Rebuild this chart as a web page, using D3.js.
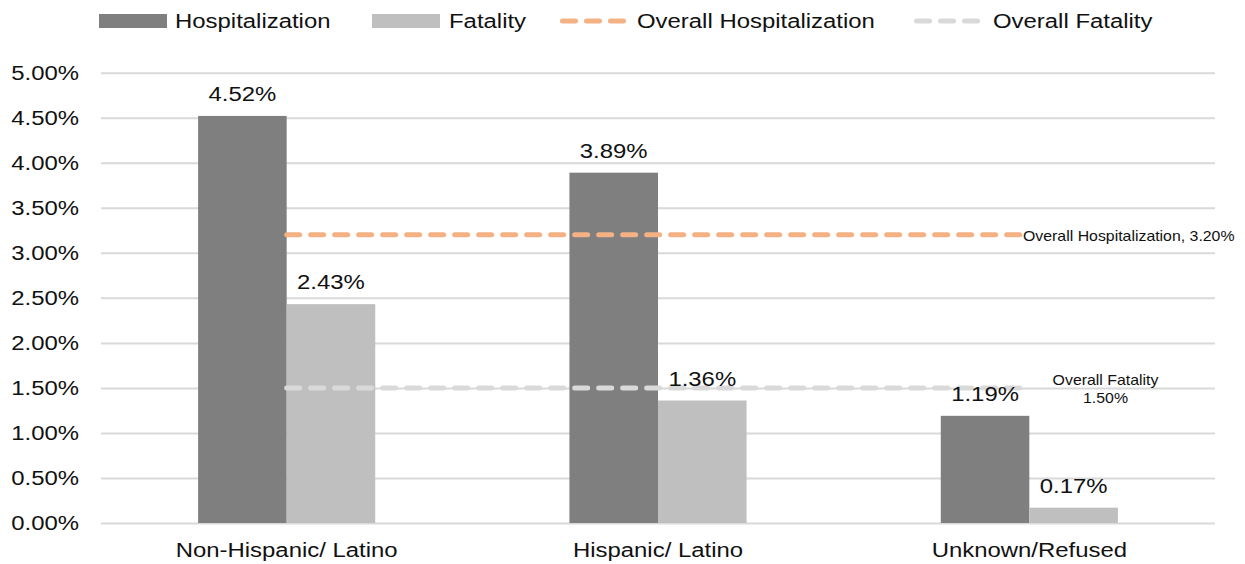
<!DOCTYPE html>
<html>
<head>
<meta charset="utf-8">
<script src="https://cdn.jsdelivr.net/npm/d3@7"></script>
<style>
  html, body { margin: 0; padding: 0; background: #fff; }
  svg { display: block; }
  text { font-family: "Liberation Sans", Arial, sans-serif; fill: #111; }
</style>
</head>
<body>
<svg id="chart" width="1245" height="564"></svg>
<script>
// Rates by ethnicity
const categories = ["Non-Hispanic/ Latino", "Hispanic/ Latino", "Unknown/Refused"];
const hospitalization = [0.0452, 0.0389, 0.0119];
const fatality = [0.0243, 0.0136, 0.0017];
const overallHospitalization = 0.032;
const overallFatality = 0.015;
const yTicks = [0, 0.005, 0.01, 0.015, 0.02, 0.025, 0.03, 0.035, 0.04, 0.045, 0.05];
const legendLabels = ["Hospitalization", "Fatality", "Overall Hospitalization", "Overall Fatality"];

const colors = {
  hosp: "#7f7f7f",
  fat: "#bfbfbf",
  overallHosp: "#f4b183",
  overallFat: "#d9d9d9",
  grid: "#d9d9d9"
};

const W = 1245, H = 564;
const plot = { left: 101, right: 1215, top: 72.7, bottom: 523 };
const FS = 20.8, SX = 1.15;     // type size and horizontal stretch

const svg = d3.select("#chart");
const pct = d3.format(".2%");

const x = d3.scaleBand().domain(categories).range([plot.left, plot.right]).padding(0);
const y = d3.scaleLinear().domain([0, 0.05]).range([plot.bottom, plot.top]);
const barW = x.bandwidth() * 0.2385;

// stretched text helper
function label(g, tx, ty, str, anchor, size) {
  return g.append("text")
    .attr("transform", `translate(${tx},${ty}) scale(${SX},1)`)
    .attr("text-anchor", anchor)
    .style("font-size", (size || FS) + "px")
    .text(str);
}

// gridlines
const yAxis = d3.axisLeft(y).tickValues(yTicks).tickSize(-(plot.right - plot.left)).tickFormat("");
const ga = svg.append("g").attr("transform", `translate(${plot.left},0)`).call(yAxis);
ga.select(".domain").remove();
ga.selectAll(".tick line").attr("stroke", colors.grid).attr("stroke-width", 2);

// tick labels
const tl = svg.append("g");
yTicks.forEach(v => label(tl, 79, y(v) + 7.4, pct(v), "end"));

// bars
const bars = svg.append("g");
categories.forEach((c, i) => {
  const cx = x(c) + x.bandwidth() / 2;
  bars.append("rect")
    .attr("x", cx - barW).attr("width", barW)
    .attr("y", y(hospitalization[i])).attr("height", y(0) - y(hospitalization[i]))
    .attr("fill", colors.hosp);
  bars.append("rect")
    .attr("x", cx).attr("width", barW)
    .attr("y", y(fatality[i])).attr("height", y(0) - y(fatality[i]))
    .attr("fill", colors.fat);
});

// overall reference lines
const lineGen = d3.line().x(d => x(d) + x.bandwidth() / 2).y(() => 0);
function refLine(v, color) {
  svg.append("path")
    .attr("d", d3.line().x(c => x(c) + x.bandwidth() / 2).y(() => y(v))(categories))
    .attr("fill", "none").attr("stroke", color).attr("stroke-width", 5)
    .attr("stroke-linecap", "round").attr("stroke-dasharray", "13 11");
}
refLine(overallHospitalization, colors.overallHosp);
refLine(overallFatality, colors.overallFat);

// value labels
const vl = svg.append("g");
categories.forEach((c, i) => {
  const cx = x(c) + x.bandwidth() / 2;
  label(vl, cx - barW / 2, y(hospitalization[i]) - 15, pct(hospitalization[i]), "middle");
  label(vl, cx + barW / 2, y(fatality[i]) - 15, pct(fatality[i]), "middle");
});

// overall labels
const ol = svg.append("g");
label(ol, 1023, y(overallHospitalization) + 6, "Overall Hospitalization, " + d3.format(".2%")(overallHospitalization), "start", 13.8);
label(ol, 1105.5, y(overallFatality) - 2.5, "Overall Fatality", "middle", 13.8);
label(ol, 1105.5, y(overallFatality) + 15, pct(overallFatality), "middle", 13.8);

// category labels
const cl = svg.append("g");
categories.forEach(c => label(cl, x(c) + x.bandwidth() / 2, 557, c, "middle"));

// legend
const lg = svg.append("g");
const ly = 21;
lg.append("rect").attr("x", 99).attr("y", ly - 7).attr("width", 68).attr("height", 14).attr("fill", colors.hosp);
label(lg, 175, ly + 7.4, legendLabels[0], "start");
lg.append("rect").attr("x", 372).attr("y", ly - 7).attr("width", 68).attr("height", 14).attr("fill", colors.fat);
label(lg, 449, ly + 7.4, legendLabels[1], "start");
lg.append("line").attr("x1", 562.5).attr("x2", 624.5).attr("y1", ly).attr("y2", ly)
  .attr("stroke", colors.overallHosp).attr("stroke-width", 5).attr("stroke-linecap", "round")
  .attr("stroke-dasharray", "13 11");
label(lg, 637, ly + 7.4, legendLabels[2], "start");
lg.append("line").attr("x1", 916.5).attr("x2", 978.5).attr("y1", ly).attr("y2", ly)
  .attr("stroke", colors.overallFat).attr("stroke-width", 5).attr("stroke-linecap", "round")
  .attr("stroke-dasharray", "13 11");
label(lg, 993, ly + 7.4, legendLabels[3], "start");
</script>
</body>
</html>
